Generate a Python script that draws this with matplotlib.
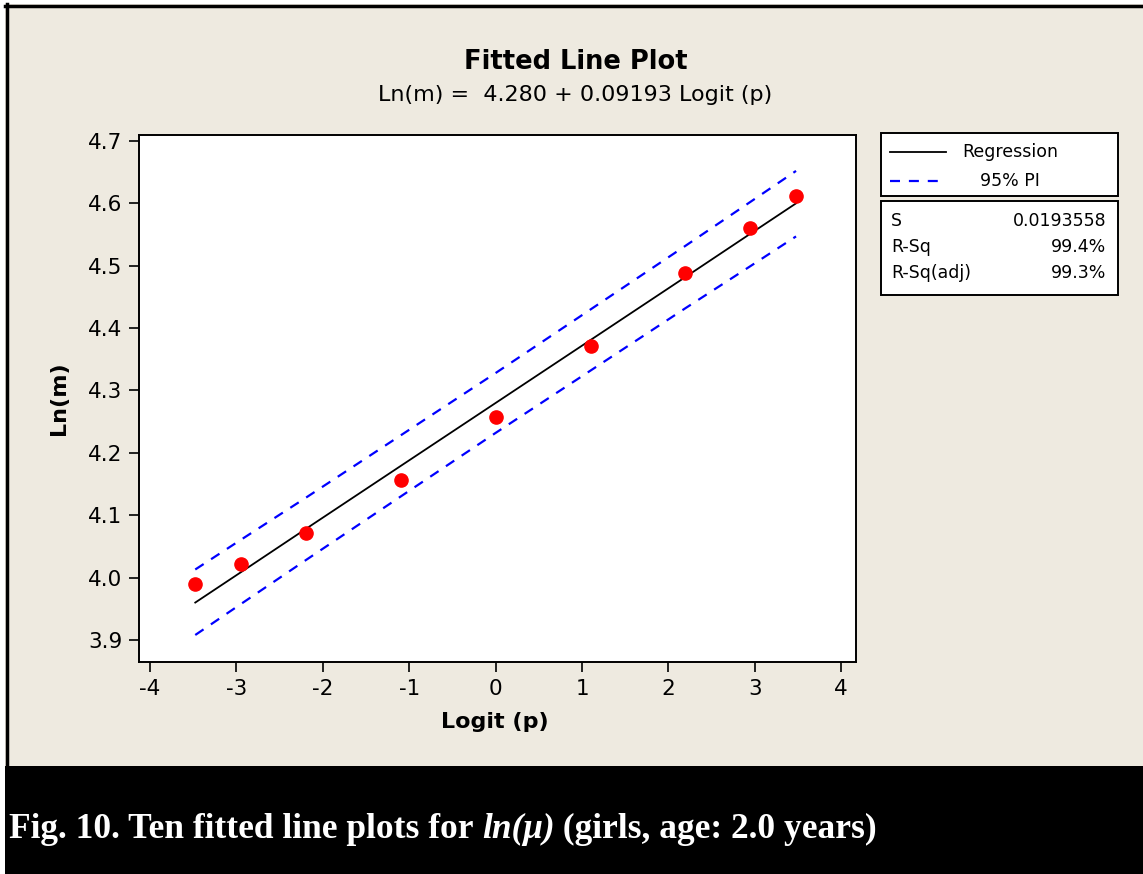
import matplotlib
matplotlib.use("Agg")
import matplotlib.pyplot as plt
from matplotlib.patches import Rectangle
from matplotlib.lines import Line2D

# logit of the quantiles p = .03 .05 .10 .25 .50 .75 .90 .95 .97
logit_p = [-3.476, -2.944, -2.197, -1.099, 0.0, 1.099, 2.197, 2.944, 3.476]
ln_m = [3.990, 4.022, 4.071, 4.156, 4.258, 4.372, 4.488, 4.560, 4.612]

# fitted line and 95% prediction interval, read at the same x values
fit = [3.960, 4.009, 4.078, 4.179, 4.280, 4.381, 4.482, 4.551, 4.600]
pi_upper = [4.013, 4.061, 4.128, 4.228, 4.328, 4.430, 4.532, 4.602, 4.652]
pi_lower = [3.908, 3.958, 4.028, 4.130, 4.232, 4.332, 4.432, 4.499, 4.547]

x_ticks = [-4, -3, -2, -1, 0, 1, 2, 3, 4]
y_ticks = [3.9, 4.0, 4.1, 4.2, 4.3, 4.4, 4.5, 4.6, 4.7]

stat_names = ["S", "R-Sq", "R-Sq(adj)"]
stat_values = ["0.0193558", "99.4%", "99.3%"]

W, H = 1143, 874
BEIGE = "#eeeae0"
plt.rcParams["font.family"] = "DejaVu Sans"
plt.rcParams["axes.unicode_minus"] = False

fig = plt.figure(figsize=(W / 100, H / 100), dpi=100, facecolor="white")


def fx(px):
    return px / W


def fy(py):
    return 1 - py / H


# beige panel with black frame on top and left, black caption band
fig.patches.append(Rectangle((fx(5), fy(766)), 1, fy(4) - fy(766), transform=fig.transFigure,
                             facecolor=BEIGE, edgecolor="none", zorder=-2))
fig.add_artist(Line2D([fx(7), fx(7)], [fy(4), fy(770)], color="black", lw=2.5, zorder=-1))
fig.add_artist(Line2D([fx(5), 1], [fy(6), fy(6)], color="black", lw=2.5, zorder=-1))
fig.patches.append(Rectangle((fx(5), 0), 1, fy(766), transform=fig.transFigure,
                             facecolor="black", edgecolor="none", zorder=-1))

ax = fig.add_axes([fx(139), fy(662), fx(856) - fx(139), fy(135) - fy(662)])
ax.set_zorder(2)
ax.set_facecolor("white")
ax.plot(logit_p, fit, color="black", lw=1.3)
ax.plot(logit_p, pi_upper, color="#0000ff", lw=1.6, dashes=(4.5, 4))
ax.plot(logit_p, pi_lower, color="#0000ff", lw=1.6, dashes=(4.5, 4))
ax.plot(logit_p, ln_m, "o", color="#ff0000", markersize=9.5, zorder=5)

ax.set_xlim(-4.127, 4.17)
ax.set_ylim(3.8647, 4.7096)
ax.set_xticks(x_ticks)
ax.set_xticklabels([str(t) for t in x_ticks])
ax.set_yticks(y_ticks)
ax.set_yticklabels([f"{t:.1f}" for t in y_ticks])
ax.tick_params(direction="out", length=7, width=1.2, labelsize=15.5, pad=5)
for s in ax.spines.values():
    s.set_linewidth(1.4)
ax.set_xlabel("Logit (p)", fontsize=16, fontweight="bold", va="center")
ax.set_ylabel("Ln(m)", fontsize=16, fontweight="bold", va="center")
ax.xaxis.set_label_coords(0.496, -(722 - 662) / 527)
ax.yaxis.set_label_coords(-(139 - 59) / 717, 0.5)

fig.text(fx(576), fy(62), "Fitted Line Plot", ha="center", va="center",
         fontsize=18.5, fontweight="bold")
fig.text(fx(575), fy(95), "Ln(m) =  4.280 + 0.09193 Logit (p)", ha="center", va="center",
         fontsize=16)

# legend box
fig.patches.append(Rectangle((fx(881), fy(196)), fx(1118) - fx(881), fy(133) - fy(196),
                             transform=fig.transFigure, facecolor="white",
                             edgecolor="black", lw=1.4))
fig.add_artist(Line2D([fx(890), fx(946)], [fy(152), fy(152)], color="black", lw=1.3))
fig.add_artist(Line2D([fx(890), fx(946)], [fy(181), fy(181)], color="#0000ff", lw=1.6,
                      dashes=(4.5, 4)))
fig.text(fx(1010), fy(152), "Regression", ha="center", va="center", fontsize=12.5)
fig.text(fx(1010), fy(181), "95% PI", ha="center", va="center", fontsize=12.5)

# statistics box
fig.patches.append(Rectangle((fx(881), fy(295)), fx(1118) - fx(881), fy(201) - fy(295),
                             transform=fig.transFigure, facecolor="white",
                             edgecolor="black", lw=1.4))
for i, (name, val) in enumerate(zip(stat_names, stat_values)):
    y = fy(221 + i * 26)
    fig.text(fx(891), y, name, ha="left", va="center", fontsize=12.5)
    fig.text(fx(1106), y, val, ha="right", va="center", fontsize=12.5)

# caption
cap = dict(fontsize=25.5, fontweight="bold", color="white", va="baseline",
           family="Liberation Serif")
base = fy(838)
t1 = fig.text(fx(9), base, "Fig. 10. Ten fitted line plots for ", ha="left", **cap)
fig.canvas.draw()
t2 = fig.text(t1.get_window_extent().x1 / W, base, "ln(\u03bc)", ha="left",
              style="italic", **cap)
fig.canvas.draw()
fig.text(t2.get_window_extent().x1 / W, base, " (girls, age: 2.0 years)", ha="left", **cap)

fig.savefig("out.png", dpi=100, facecolor=fig.get_facecolor())
